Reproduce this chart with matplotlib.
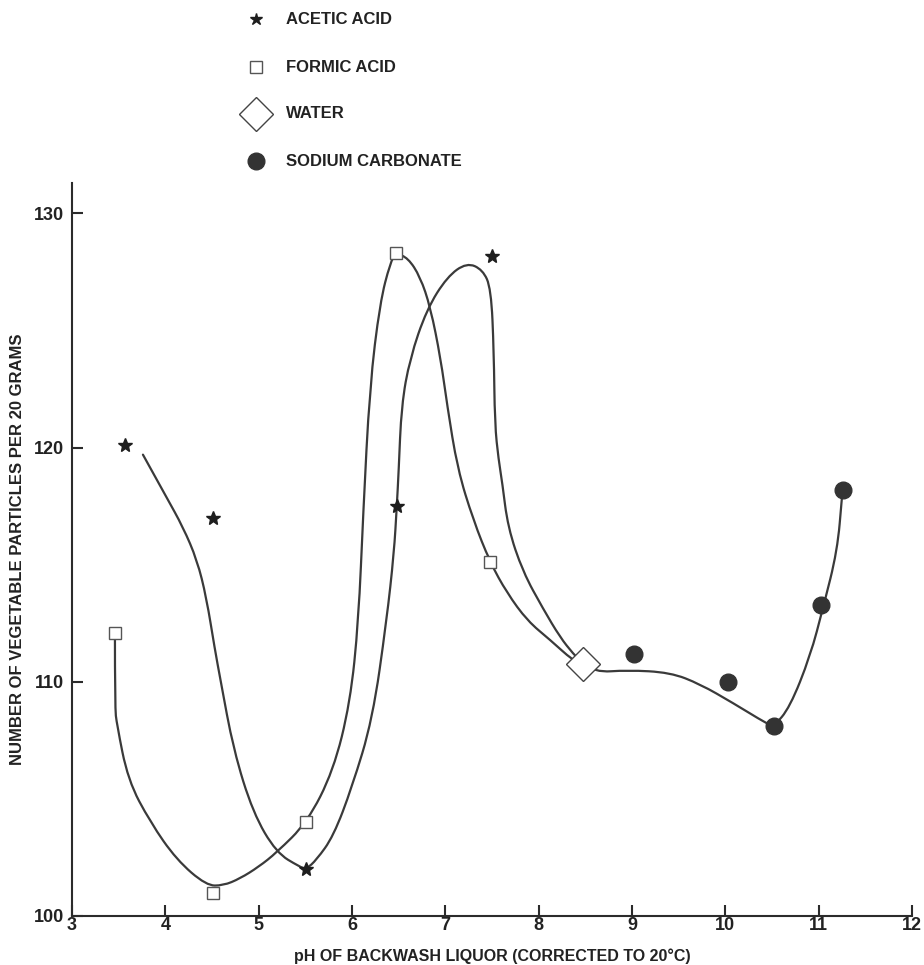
import matplotlib.pyplot as plt
from matplotlib.path import Path
from matplotlib.patches import PathPatch
import numpy as np

plt.rcParams['font.family'] = ['Liberation Sans', 'DejaVu Sans']
plt.rcParams['font.weight'] = 'bold'
plt.rcParams['axes.labelweight'] = 'bold'

# measured points
acetic_x = [3.57, 4.51, 5.51, 6.48, 7.50]
acetic_y = [120.1, 117.0, 102.0, 117.5, 128.2]
formic_x = [3.46, 4.51, 5.51, 6.47, 7.48]
formic_y = [112.1, 101.0, 104.0, 128.3, 115.1]
water_x = [8.48]
water_y = [110.75]
sodium_x = [9.02, 10.03, 10.52, 11.03, 11.26]
sodium_y = [111.2, 110.0, 108.1, 113.3, 118.2]

# hand drawn curves
acetic_cx = [3.76, 4.01, 4.19, 4.34, 4.44, 4.53, 4.59, 4.73, 4.94, 5.19, 5.44, 5.51,
             5.62, 5.80, 6.00, 6.22, 6.37, 6.45, 6.48, 6.50, 6.53, 6.62, 6.80, 7.02,
             7.23, 7.40, 7.49, 7.52, 7.53, 7.57, 7.61, 7.67, 7.83, 8.05, 8.23, 8.37, 8.48]
acetic_cy = [119.7, 117.9, 116.6, 115.2, 113.6, 111.4, 110.1, 107.1, 104.4, 102.7, 102.1, 102.0,
             102.4, 103.4, 105.5, 108.4, 112.6, 115.5, 117.5, 119.0, 121.8, 123.8, 125.9, 127.3,
             127.9, 127.6, 126.8, 124.1, 121.0, 119.5, 118.5, 116.6, 114.7, 113.1, 111.9, 111.2, 110.75]
formic_cx = [3.46, 3.46, 3.48, 3.60, 3.84, 4.12, 4.44, 4.62, 4.80, 5.00, 5.19, 5.52,
             5.80, 5.98, 6.07, 6.12, 6.19, 6.30, 6.41, 6.47, 6.60, 6.73, 6.84, 6.95,
             7.02, 7.13, 7.30, 7.48, 7.66, 7.88, 8.12, 8.37, 8.48]
formic_cy = [112.1, 108.9, 108.2, 105.8, 104.0, 102.4, 101.3, 101.3, 101.6, 102.1, 102.7, 104.0,
             106.2, 109.1, 112.6, 117.2, 122.6, 126.2, 127.9, 128.3, 128.1, 127.3, 126.0, 123.8,
             121.8, 119.1, 116.9, 115.1, 113.8, 112.6, 111.8, 110.9, 110.75]
base_cx = [8.48, 8.60, 8.95, 9.41, 9.73, 10.08, 10.45, 10.52, 10.69, 10.91, 11.05, 11.20, 11.25]
base_cy = [110.75, 110.4, 110.5, 110.4, 109.9, 109.1, 108.2, 108.1, 108.9, 111.1, 113.2, 115.6, 117.9]

x_ticks = [3, 4, 5, 6, 7, 8, 9, 10, 11, 12]
y_ticks = [100, 110, 120, 130]

ink = '#2b2b2b'


def smooth_path(xs, ys):
    # quadratic bezier pieces, traced points used as control points
    pts = np.column_stack([xs, ys])
    verts = [pts[0]]
    codes = [Path.MOVETO]
    for i in range(1, len(pts) - 1):
        verts += [pts[i], (pts[i] + pts[i + 1]) / 2]
        codes += [Path.CURVE3, Path.CURVE3]
    verts.append(pts[-1])
    codes.append(Path.LINETO)
    return Path(verts, codes)


fig = plt.figure(figsize=(9.24, 9.65), dpi=100)
ax = fig.add_axes([72/924, 49/965, 840/924, 733/965])

for cx, cy in [(acetic_cx, acetic_cy), (formic_cx, formic_cy), (base_cx, base_cy)]:
    ax.add_patch(PathPatch(smooth_path(cx, cy), fc='none', ec='#3a3a3a', lw=1.6,
                           joinstyle='round', capstyle='round', zorder=2))

ax.plot(acetic_x, acetic_y, ls='none', marker='*', ms=10, color='#1e1e1e', zorder=3)
ax.plot(formic_x, formic_y, ls='none', marker='s', ms=9, mfc='white', mec='#555555', mew=1.0, zorder=3)
ax.plot(water_x, water_y, ls='none', marker='D', ms=17, mfc='white', mec='#444444', mew=1.0, zorder=3)
ax.plot(sodium_x, sodium_y, ls='none', marker='o', ms=12, color='#333333', zorder=3)

ax.set_xlim(3, 12)
ax.set_ylim(100, 131.3)
ax.set_xticks(x_ticks)
ax.set_yticks(y_ticks)
ax.spines['top'].set_visible(False)
ax.spines['right'].set_visible(False)
for s in ['left', 'bottom']:
    ax.spines[s].set_color(ink)
    ax.spines[s].set_linewidth(1.5)
ax.tick_params(axis='both', direction='in', length=8, width=1.5, color=ink,
               labelsize=13, labelcolor='#222222')
ax.tick_params(axis='x', pad=1)
ax.tick_params(axis='y', pad=6)
ax.set_xlabel('pH OF BACKWASH LIQUOR (CORRECTED TO 20°C)', fontsize=11.5, color='#222222', labelpad=10)
ax.set_ylabel('NUMBER OF VEGETABLE PARTICLES PER 20 GRAMS', fontsize=12, color='#222222', labelpad=6)

# legend at top
leg_names = ['ACETIC ACID', 'FORMIC ACID', 'WATER', 'SODIUM CARBONATE']
leg_style = [dict(marker='*', ms=9, color='#1e1e1e'),
             dict(marker='s', ms=9, mfc='white', mec='#555555', mew=1.0),
             dict(marker='D', ms=17, mfc='white', mec='#444444', mew=1.0),
             dict(marker='o', ms=12, color='#333333')]
leg_y = [19, 67, 114, 161]
for name, st, yy in zip(leg_names, leg_style, leg_y):
    fig.lines.append(plt.Line2D([256/924], [1 - yy/965], transform=fig.transFigure, ls='none', **st))
    fig.text(286/924, 1 - yy/965, name, fontsize=12, color='#222222', va='center', ha='left')

fig.savefig('out.png', dpi=100, facecolor='white')
